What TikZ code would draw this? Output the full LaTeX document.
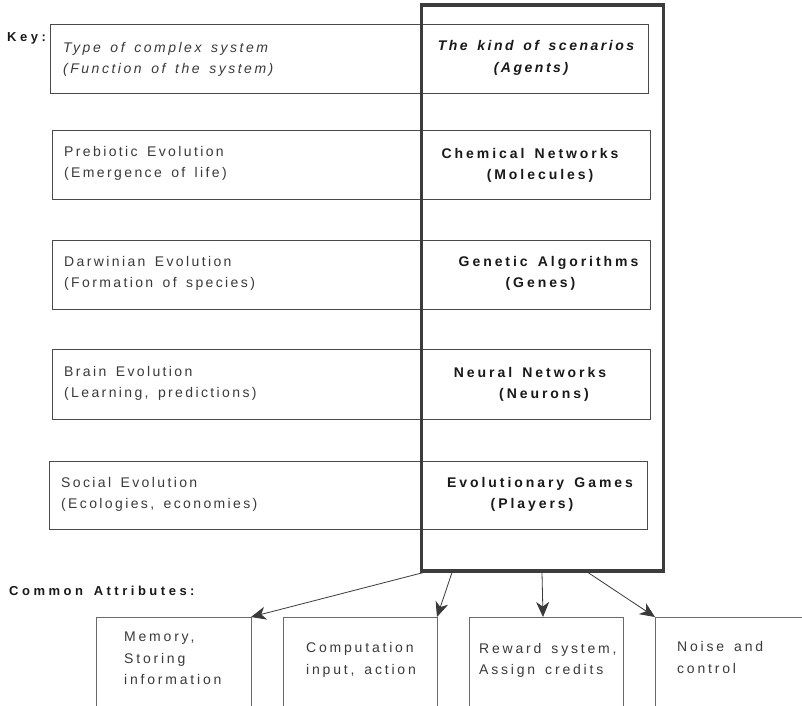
\documentclass[tikz,border=0pt]{standalone}
\usepackage{fontspec}
\setmainfont{Liberation Sans}
\newfontfamily\regsp[LetterSpace=17, WordSpace=1.5]{Liberation Sans}
\newfontfamily\lowsp[LetterSpace=20, WordSpace=1.5]{Liberation Sans}
\newfontfamily\itsp[LetterSpace=18, WordSpace=1.5]{Liberation Sans Italic}
\newfontfamily\bfsp[LetterSpace=21, WordSpace=1.5]{Liberation Sans Bold}
\newfontfamily\hdsp[LetterSpace=27, WordSpace=1.5]{Liberation Sans Bold}
\newfontfamily\bisp[LetterSpace=18, WordSpace=1.5]{Liberation Sans Bold Italic}
\usetikzlibrary{arrows.meta}
\definecolor{txtgray}{HTML}{3A3A3A}
\definecolor{boxgray}{HTML}{4A4A4A}
\definecolor{framegray}{HTML}{3C3C3C}
\definecolor{lowgray}{HTML}{6A6A6A}
\tikzset{
  rowbox/.style={draw=boxgray, line width=0.9pt, inner sep=0pt, outer sep=0pt, anchor=north west},
  lowbox/.style={draw=lowgray, line width=1pt, inner sep=0pt, outer sep=0pt, anchor=north west, minimum height=120pt},
  framebox/.style={draw=framegray, line width=3.5pt, inner sep=0pt, outer sep=0pt, anchor=north west},
  ltxt/.style={anchor=base west, inner sep=0pt, text=txtgray, font=\fontsize{14}{16}\regsp},
  lowtxt/.style={anchor=base west, inner sep=0pt, text=txtgray, font=\fontsize{14}{16}\lowsp},
  itxt/.style={anchor=base west, inner sep=0pt, text=txtgray, font=\fontsize{14}{16}\itsp},
  btxt/.style={anchor=base, inner sep=0pt, text=black!90, font=\fontsize{14}{16}\bfsp},
  bitxt/.style={anchor=base, inner sep=0pt, text=black!90, font=\fontsize{14}{16}\bisp},
  head/.style={anchor=base west, inner sep=0pt, text=black!90, font=\fontsize{13}{15}\hdsp},
  arr/.style={draw=txtgray, line width=0.8pt, -{Stealth[length=15pt, width=13pt, inset=4.5pt]}}
}
\begin{document}
\begin{tikzpicture}[x=1pt, y=-1pt]
\useasboundingbox (0,0) rectangle (802,705);
\clip (0,0) rectangle (802,705);
\fill[white] (0,0) rectangle (802,705);

% row boxes
\node[rowbox, minimum width=598pt, minimum height=69pt] (keybox) at (50.5,24) {};
\node[rowbox, minimum width=598pt, minimum height=69pt] (prebox) at (52,130) {};
\node[rowbox, minimum width=598pt, minimum height=69pt] (darbox) at (52,240) {};
\node[rowbox, minimum width=598pt, minimum height=70pt] (brabox) at (52,349) {};
\node[rowbox, minimum width=598pt, minimum height=68pt] (socbox) at (49,461) {};

% thick frame
\node[framebox, minimum width=242pt, minimum height=566pt] (frame) at (421.5,5) {};

% headings
\node[head, font=\fontsize{13}{15}\hdsp] (keylbl) at (7,41) {Key:};
\node[head] (comlbl) at (9,595) {Common Attributes:};

% key texts
\node[itxt] (k1) at (63,52) {Type of complex system};
\node[itxt] (k2) at (63,73) {(Function of the system)};
\node[bitxt] (k3) at (536,50) {The kind of scenarios};
\node[bitxt] (k4) at (531,72) {(Agents)};

% prebiotic
\node[ltxt] (p1) at (64,156) {Prebiotic Evolution};
\node[ltxt] (p2) at (64,177) {(Emergence of life)};
\node[btxt] (p3) at (530,158) {Chemical Networks};
\node[btxt] (p4) at (540,179) {(Molecules)};

% darwinian
\node[ltxt] (d1) at (64,266) {Darwinian Evolution};
\node[ltxt] (d2) at (64,287) {(Formation of species)};
\node[btxt] (d3) at (548.5,266) {Genetic Algorithms};
\node[btxt] (d4) at (540.5,287) {(Genes)};

% brain
\node[ltxt] (b1) at (64,376) {Brain Evolution};
\node[ltxt] (b2) at (64,397) {(Learning, predictions)};
\node[btxt] (b3) at (530,377) {Neural Networks};
\node[btxt] (b4) at (544,398) {(Neurons)};

% social
\node[ltxt] (s1) at (61,487) {Social Evolution};
\node[ltxt] (s2) at (61,508) {(Ecologies, economies)};
\node[btxt] (s3) at (540,487) {Evolutionary Games};
\node[btxt] (s4) at (532,508) {(Players)};

% bottom boxes
\node[lowbox, minimum width=155pt] (mem) at (96,617) {};
\node[lowbox, minimum width=154pt] (comp) at (283,617) {};
\node[lowbox, minimum width=154pt] (rew) at (469,617) {};
\node[lowbox, minimum width=200pt] (noise) at (655,617) {};

\node[lowtxt] (m1) at (124,641) {Memory,};
\node[lowtxt] (m2) at (124,663) {Storing};
\node[lowtxt] (m3) at (124,684) {information};
\node[lowtxt] (c1) at (306,652) {Computation};
\node[lowtxt] (c2) at (306,674) {input, action};
\node[lowtxt] (r1) at (479,653) {Reward system,};
\node[lowtxt] (r2) at (479,674) {Assign credits};
\node[lowtxt] (n1) at (677,651) {Noise and};
\node[lowtxt] (n2) at (677,673) {control};

% arrows
\draw[arr] ([xshift=2pt, yshift=-1.5pt]frame.south west) -- (mem.north east);
\draw[arr] ([xshift=30.5pt, yshift=-1.5pt]frame.south west) -- (comp.north east);
\draw[arr] ([xshift=120.5pt, yshift=-1.5pt]frame.south west) -- ([xshift=-3pt]rew.north);
\draw[arr] ([xshift=166.5pt, yshift=-1.5pt]frame.south west) -- (noise.north west);
\end{tikzpicture}
\end{document}
